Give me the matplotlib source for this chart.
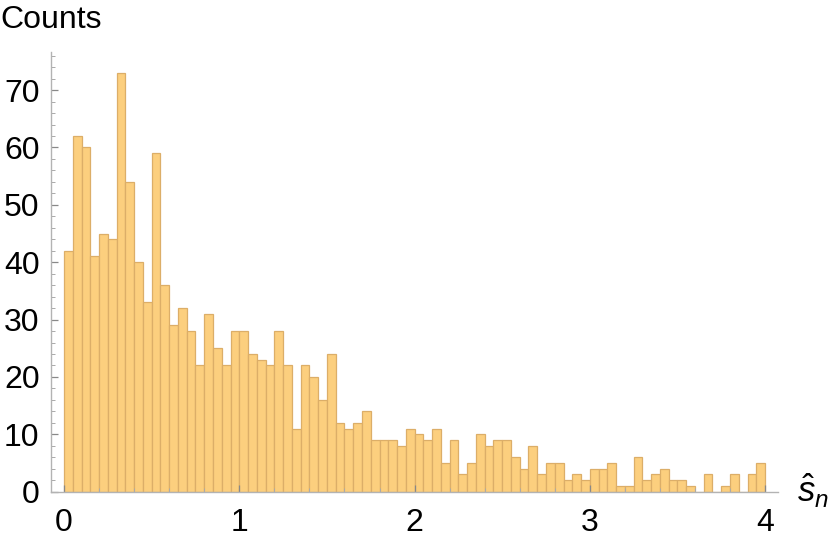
import numpy as np
import matplotlib.pyplot as plt
from matplotlib.ticker import MultipleLocator

plt.rcParams['font.family'] = ['Liberation Sans', 'DejaVu Sans']
plt.rcParams['mathtext.fontset'] = 'custom'
plt.rcParams['mathtext.it'] = 'Liberation Sans:italic'
plt.rcParams['mathtext.rm'] = 'Liberation Sans'

# histogram of s_n, bin width 0.05 on [0, 4]
bin_width = 0.05
bin_starts = np.arange(80) * bin_width
counts = [42, 62, 60, 41, 45, 44, 73, 54, 40, 33,
          59, 36, 29, 32, 28, 22, 31, 25, 22, 28,
          28, 24, 23, 22, 28, 22, 11, 22, 20, 16,
          24, 12, 11, 12, 14, 9, 9, 9, 8, 11,
          10, 9, 11, 5, 9, 3, 5, 10, 8, 9,
          9, 6, 4, 8, 3, 5, 5, 2, 3, 2,
          4, 4, 5, 1, 1, 6, 2, 3, 4, 2,
          2, 1, 0, 3, 0, 1, 3, 0, 3, 5]

fig = plt.figure(figsize=(8.3, 5.37), dpi=100)
ax = fig.add_axes([0.0611, 0.0844, 0.8763, 0.8194])

ax.bar(bin_starts, counts, width=bin_width, align='edge',
       color='#fccf7e', edgecolor='#dcae68', linewidth=0.9)

ax.set_xlim(-0.076, 4.074)
ax.set_ylim(0, 76.7)

for s in ['top', 'right']:
    ax.spines[s].set_visible(False)
for s in ['left', 'bottom']:
    ax.spines[s].set_color('#b3b3b3')
    ax.spines[s].set_linewidth(1.0)

ax.xaxis.set_major_locator(MultipleLocator(1))
ax.xaxis.set_minor_locator(MultipleLocator(0.2))
ax.yaxis.set_major_locator(MultipleLocator(10))
ax.yaxis.set_minor_locator(MultipleLocator(2))
ax.tick_params(which='major', direction='in', length=5, width=0.9, color='#888888',
               labelsize=23, labelcolor='black')
ax.tick_params(which='minor', direction='in', length=3, width=0.7, color='#aaaaaa')
ax.tick_params(axis='x', which='major', pad=12)
ax.tick_params(axis='y', which='major', pad=8)

fig.text(0.0, 0.962, 'Counts', fontsize=23, va='center', ha='left')
fig.text(0.96, 0.085, r'$\hat{s}_n$', fontsize=25, va='center', ha='left')

fig.savefig('out.png', dpi=100)
